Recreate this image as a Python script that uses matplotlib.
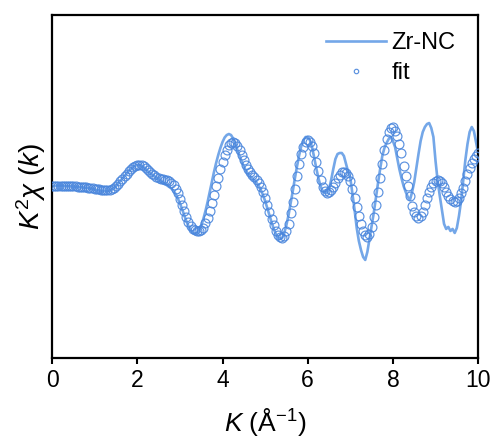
import numpy as np
import matplotlib
matplotlib.use("Agg")
import matplotlib.pyplot as plt

plt.rcParams['font.family'] = ['Liberation Sans', 'DejaVu Sans']
plt.rcParams['mathtext.fontset'] = 'custom'
plt.rcParams['mathtext.rm'] = 'Liberation Sans'
plt.rcParams['mathtext.it'] = 'Liberation Sans:italic'

# k grid (Å^-1), 0 to 10 in steps of 0.05
k = np.round(np.arange(201) * 0.05, 2)

# Measured data (Zr-NC), k^2 chi(k), arbitrary units
zr_nc = [
    0, 0, 0, 0, 0, 0, 0, 0, 0, -0.5, -0.5, -1, -1, -1, -1.5, -1.5, -2, -2, -2.5, -3,
    -3.5, -4, -4.5, -5, -5, -5, -5, -4.5, -3.5, -2, 0, 2.5, 5, 7.5, 10, 12.5, 15, 17, 19, 20.3,
    21, 21, 20, 18.5, 16.5, 14.5, 12.5, 11, 9.5, 8, 6.5, 5, 3.5, 2, 0.5, -1, -2.5, -5, -8, -12.5,
    -17, -23, -29, -35, -40, -44, -46.5, -47.5, -47, -44.5, -40, -33, -25, -16, -6, 4, 14, 23, 31, 38,
    44, 48.5, 51, 52, 51, 47.5, 42, 36, 30, 24.5, 19.5, 15.5, 12, 9.5, 7.5, 5.5, 3, 0, -4, -9,
    -15, -22, -29, -36, -42.5, -48, -51.5, -53, -52, -47, -39, -29, -17, -5, 8, 20, 31, 40, 46, 49,
    49, 46, 39, 29, 18, 8, 0, -5, -7, -7, -3, 6, 17, 27, 32, 33, 33, 30, 22, 14,
    8, -8, -24, -42, -55, -64, -71, -74, -66, -53, -40, -27, -12, 3, 17, 30, 38, 43, 47, 49,
    45, 39, 28, 17, 8, 0, -6, -11, -14, -6, 4, 18, 32, 45, 54, 59, 62, 63, 58, 49,
    25, 5, -10, -24, -38, -43, -41, -45, -43, -47, -42, -30, -15, 5, 26, 42, 54, 59, 55, 44,
    33,
]

# Fit
fit = [
    0, 0, 0, 0, 0, 0, 0, 0, 0, -0.5, -0.5, -0.5, -1, -1, -1, -1.5, -1.5, -2, -2, -2.5,
    -3, -3, -3.5, -4, -4, -4, -4, -3.7, -2.9, -1.6, 0.1, 2.3, 4.6, 7.2, 9.8, 12.4, 14.8, 16.9, 18.6, 19.9,
    20.7, 21, 20.5, 19.5, 18, 16, 14, 12, 10.5, 9, 8, 7, 6.5, 6, 5.5, 4.5, 3, 0.5, -3, -7.5,
    -13, -19, -25, -31, -36, -40, -43, -44.5, -45, -45, -44.1, -41.6, -37.5, -32.0, -25.2, -17.5, -9.2, -0.5, 8.2, 16.5,
    24.2, 31.0, 36.5, 40.6, 43.1, 44, 43, 40.5, 36.5, 31.5, 26, 21, 17, 13.5, 11, 8.5, 6, 3, -1, -6,
    -12, -19, -26, -33, -39.5, -45, -49, -51.5, -52, -50.3, -45.4, -37.6, -27.5, -15.7, -3, 9.7, 21.5, 31.6, 39.4, 44.3,
    46, 44.4, 39.8, 32.8, 24.1, 14.9, 6.3, -0.8, -5.4, -7, -6.5, -4.5, -1, 3, 7.5, 11, 13.5, 14, 13, 10,
    5, -3, -12, -21, -30, -38, -45, -49.5, -51, -48, -41, -31, -19, -6, 8, 22, 36, 47, 54, 58,
    59, 55, 50, 42, 33, 20, 10, 0, -10, -20, -26, -30, -32, -30.5, -26, -19, -12, -6, -1, 2.5,
    5, 6, 5, 2.5, -1, -6, -10, -13.5, -15.5, -16, -15, -12, -7, -2, 5, 12, 18, 23, 27, 30.5,
    33,
]

x_ticks = [0, 2, 4, 6, 8, 10]

fig = plt.figure(figsize=(4.96, 4.44), dpi=100)
ax = fig.add_axes([0.105, 0.194, 0.859, 0.772])

ax.plot(k, zr_nc, color='#74a7e8', lw=1.9, label='Zr-NC', zorder=2)
ax.plot(k, fit, linestyle='none', marker='o', markersize=6.4, markerfacecolor='none',
        markeredgecolor='#4a86dc', markeredgewidth=0.85, alpha=0.9, label='fit', zorder=3)

ax.set_xlim(0, 10)
ax.set_ylim(-172, 171)
ax.set_xticks(x_ticks)
ax.set_xticklabels([str(t) for t in x_ticks])
ax.set_yticks([])
ax.tick_params(axis='x', direction='out', length=4, width=1.5, labelsize=16.5, pad=4)
for s in ax.spines.values():
    s.set_linewidth(1.6)
    s.set_color('black')

ax.set_xlabel(r'$\mathit{K}$ (Å$^{-1}$)', fontsize=19, labelpad=10)
ax.set_ylabel(r'$\mathit{K}^{2}\chi$ $(\mathit{k})$', fontsize=20, labelpad=3)

leg = ax.legend(loc='upper right', frameon=False, fontsize=17, handlelength=2.55,
                handletextpad=0.22, markerscale=0.5, labelspacing=0.35,
                bbox_to_anchor=(0.975, 0.985), borderaxespad=0.1)

fig.savefig('out.png', dpi=100)
